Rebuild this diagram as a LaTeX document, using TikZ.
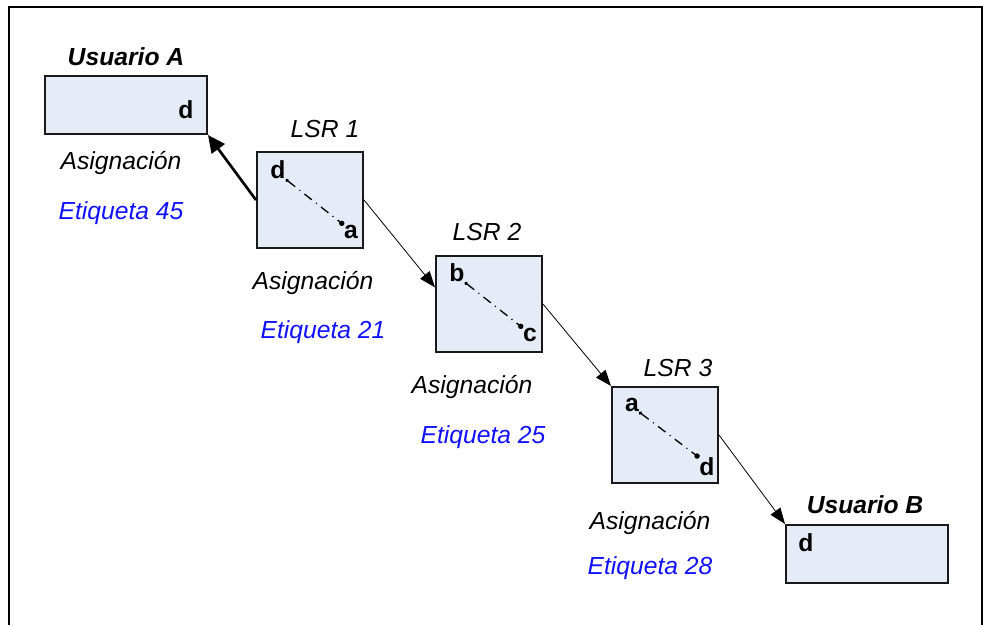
\documentclass[tikz,border=0pt]{standalone}
\usepackage{fontspec}
\setmainfont{Liberation Sans}
\usetikzlibrary{arrows.meta,calc}
\definecolor{boxfill}{HTML}{E6ECF7}
\definecolor{labblue}{HTML}{1010FF}
\begin{document}
\begin{tikzpicture}[x=0.75pt,y=-0.75pt,
  every node/.style={font=\fontsize{18.5}{21}\selectfont},
  userbox/.style={draw=black!90,line width=1.5pt,fill=boxfill,minimum width=121.5pt,minimum height=43.5pt,inner sep=0pt},
  lsrbox/.style={draw=black!90,line width=1.5pt,fill=boxfill,minimum width=79.5pt,minimum height=72pt,inner sep=0pt},
  port/.style={font=\fontsize{18.5}{21}\selectfont\bfseries,inner sep=0pt},
  title/.style={font=\fontsize{18.5}{21}\selectfont\itshape},
  utitle/.style={font=\fontsize{18.5}{21}\selectfont\bfseries\itshape},
  asig/.style={font=\fontsize{18.5}{21}\selectfont\itshape},
  etiq/.style={font=\fontsize{18.5}{21}\selectfont\itshape,text=labblue},
  link/.style={line width=0.6pt,-{Triangle[length=12pt,width=9pt]}},
  thicklink/.style={line width=2pt,-{Triangle[length=13pt,width=12pt]}},
  cross/.style={line width=1pt,dash pattern=on 7pt off 4pt on 0.8pt off 4pt,{Circle[length=2.5pt]}-{Circle[length=4pt]}}
]
\useasboundingbox (0,0) rectangle (983,625);
\clip (0,0) rectangle (983,625);
\draw[line width=1.5pt] (9,640) -- (9,7) -- (982,7) -- (982,640);

% boxes
\node[userbox] (ua) at (126,105) {};
\node[lsrbox] (l1) at (310,200) {};
\node[lsrbox] (l2) at (489,304) {};
\node[lsrbox] (l3) at (665,435) {};
\node[userbox] (ub) at (867,554) {};

% titles
\node[utitle] (tua) at (126,57) {Usuario A};
\node[title] (tl1) at (325,129) {LSR 1};
\node[title] (tl2) at (487,232) {LSR 2};
\node[title] (tl3) at (678,368) {LSR 3};
\node[utitle] (tub) at (865,505) {Usuario B};

% ports
\node[port] (pua) at (186,110) {d};
\node[port] (d1) at (278,170) {d};
\node[port] (a1) at (351,232) {a};
\node[port] (b2) at (457,273) {b};
\node[port] (c2) at (530,335) {c};
\node[port] (a3) at (632,405) {a};
\node[port] (d3) at (707,467) {d};
\node[port] (pub) at (806,543) {d};

% cross-connects
\draw[cross] (d1.south east) -- (a1.north west);
\draw[cross] (b2.south east) -- (c2.north west);
\draw[cross] (a3.south east) -- (d3.north west);

% labels
\node[asig] (s1) at (121,163) {Asignación};
\node[etiq] (e1) at (121,213) {Etiqueta 45};
\node[asig] (s2) at (313,283) {Asignación};
\node[etiq] (e2) at (323,332) {Etiqueta 21};
\node[asig] (s3) at (472,387) {Asignación};
\node[etiq] (e3) at (483,437) {Etiqueta 25};
\node[asig] (s4) at (650,523) {Asignación};
\node[etiq] (e4) at (650,568) {Etiqueta 28};

% links
\draw[thicklink] (l1.west) -- (ua.south east);
\draw[link] (l1.east) -- ($(l2.north west)!0.33!(l2.south west)$);
\draw[link] (l2.east) -- (l3.north west);
\draw[link] (l3.east) -- (ub.north west);
\end{tikzpicture}
\end{document}
